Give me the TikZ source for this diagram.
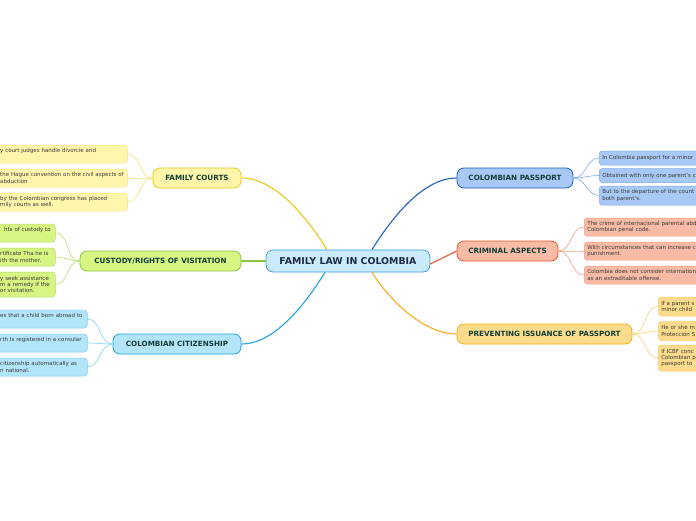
\documentclass[tikz,border=0pt]{standalone}
\usepackage{fontspec}
\setmainfont{DejaVu Sans}
\usetikzlibrary{positioning}

\definecolor{hubfill}{HTML}{C9EBFB}
\definecolor{hubline}{HTML}{3B9AD9}
\definecolor{hubtext}{HTML}{1B2A4A}
\definecolor{topictext}{HTML}{123F35}
\definecolor{notetext}{HTML}{3A3A3A}
\definecolor{courtsfill}{HTML}{FFF6AC}
\definecolor{courtsline}{HTML}{E8C81A}
\definecolor{courtsthin}{HTML}{F2E27C}
\definecolor{custodyfill}{HTML}{D6F583}
\definecolor{custodyline}{HTML}{8BC43F}
\definecolor{custodythin}{HTML}{B5DE6E}
\definecolor{citizenfill}{HTML}{B3E5FA}
\definecolor{citizenline}{HTML}{22A3DE}
\definecolor{citizenthin}{HTML}{82CFF0}
\definecolor{passportfill}{HTML}{A8C9F5}
\definecolor{passportline}{HTML}{1E5FC3}
\definecolor{passportthin}{HTML}{80AAE8}
\definecolor{crimefill}{HTML}{F8BBA6}
\definecolor{crimeline}{HTML}{E45A2D}
\definecolor{crimethin}{HTML}{F2A085}
\definecolor{preventfill}{HTML}{FDDB8C}
\definecolor{preventline}{HTML}{F4AE1A}
\definecolor{preventthin}{HTML}{F8CC6C}

\begin{document}
\begin{tikzpicture}[x=1pt,y=-1pt,
  hub/.style={draw=hubline,fill=hubfill,rounded corners=7pt,line width=0.8pt,minimum width=164pt,minimum height=22pt,inner sep=0pt,font=\fontsize{9.4}{11}\selectfont\bfseries,text=hubtext},
  topic/.style 2 args={draw=#2,fill=#1,rounded corners=7pt,line width=0.8pt,minimum height=20pt,inner sep=0pt,font=\fontsize{7.2}{8}\selectfont\bfseries,text=topictext},
  note/.style 2 args={draw=#2,fill=#1,rounded corners=3pt,line width=0.5pt,minimum height=18pt,inner xsep=3pt,inner ysep=0pt,align=left,font=\fontsize{5.5}{6.3}\selectfont,text=notetext},
  trunk/.style={line width=1.1pt,looseness=0.8},
  twig/.style={line width=0.6pt}]
\useasboundingbox (0,0) rectangle (696,520);
\clip (0,0) rectangle (696,520);
\fill[white] (0,0) rectangle (696,520);

% centre and main topics
\node[hub] (hub) at (348,261) {FAMILY LAW IN COLOMBIA};
\node[topic={courtsfill}{courtsline},minimum width=88pt] (courts) at (197,178) {FAMILY COURTS};
\node[topic={custodyfill}{custodyline},minimum width=161pt] (custody) at (160.5,261) {CUSTODY/RIGHTS OF VISITATION};
\node[topic={citizenfill}{citizenline},minimum width=128pt] (citizen) at (177,344) {COLOMBIAN CITIZENSHIP};
\node[topic={passportfill}{passportline},minimum width=116pt] (passport) at (515,178) {COLOMBIAN PASSPORT};
\node[topic={crimefill}{crimeline},minimum width=101pt] (crime) at (507.5,251) {CRIMINAL ASPECTS};
\node[topic={preventfill}{preventline},minimum width=175pt] (prevent) at (544.5,334) {PREVENTING ISSUANCE OF PASSPORT};

% notes, left side
\node[note={courtsfill}{courtsthin},text width=124pt,anchor=west] (courts-1) at (-3,154) {y court judges handle divorcie and\\\mbox{}};
\node[note={courtsfill}{courtsthin},text width=124pt,anchor=west] (courts-2) at (-3,178) {the Hague convention on the civil aspects of\\abduction};
\node[note={courtsfill}{courtsthin},text width=124pt,anchor=west] (courts-3) at (-3,202) {by the Colombian congress has placed\\mily courts as well.};
\node[note={custodyfill}{custodythin},text width=52pt,anchor=west] (custody-1) at (-3,233) {\hspace*{4pt}hts of custody to\\\mbox{}};
\node[note={custodyfill}{custodythin},text width=52pt,anchor=west] (custody-2) at (-3,257) {rtificate Tha he is\\ith the mother.};
\node[note={custodyfill}{custodythin},text width=52pt,minimum height=25pt,anchor=west] (custody-3) at (-3,284.5) {y seek assistance\\m a remedy if the\\or visitation.};
\node[note={citizenfill}{citizenthin},text width=84pt,anchor=west] (citizen-1) at (-3,319) {es that a child born abroad to\\\mbox{}};
\node[note={citizenfill}{citizenthin},text width=84pt,anchor=west] (citizen-2) at (-3,343) {rth Is registered in a consular\\\mbox{}};
\node[note={citizenfill}{citizenthin},text width=84pt,anchor=west] (citizen-3) at (-3,367) {citizenship automatically as\\n national.};

% notes, right side
\node[note={passportfill}{passportthin},text width=130pt,minimum height=14pt,anchor=west] (passport-1) at (599,158) {In Colombia passport for a minor};
\node[note={passportfill}{passportthin},text width=130pt,minimum height=14pt,anchor=west] (passport-2) at (599,175.5) {Obtained with only one parent's c};
\node[note={passportfill}{passportthin},text width=130pt,minimum height=19pt,anchor=west] (passport-3) at (599,195.5) {But to the departure of the count\\both parent's.};
\node[note={crimefill}{crimethin},text width=140pt,anchor=west] (crime-1) at (584,227) {The crime of internacional parental abd\\Colombian penal code.};
\node[note={crimefill}{crimethin},text width=140pt,anchor=west] (crime-2) at (584,251) {With circumstances that can increase c\\punishment.};
\node[note={crimefill}{crimethin},text width=140pt,anchor=west] (crime-3) at (584,275) {Colombia does not consider internation\\as an extraditable offense.};
\node[note={preventfill}{preventthin},text width=80pt,minimum height=19pt,anchor=west] (prevent-1) at (658,306.5) {If a parent s\\minor child};
\node[note={preventfill}{preventthin},text width=80pt,minimum height=19pt,anchor=west] (prevent-2) at (658,331) {He or she m\\Protección S};
\node[note={preventfill}{preventthin},text width=80pt,minimum height=26pt,anchor=west] (prevent-3) at (658,358) {If ICBF conc\\Colombian p\\passport to};

% trunk lines
\draw[trunk,courtsline] ([xshift=-21pt]hub.north) to[out=122,in=0] (courts.east);
\draw[trunk,custodyline] (hub.west) -- (custody.east);
\draw[trunk,citizenline] ([xshift=-23pt]hub.south) to[out=-122,in=0] (citizen.east);
\draw[trunk,passportline] ([xshift=24pt]hub.north) to[out=58,in=180] (passport.west);
\draw[trunk,crimeline] ([yshift=-3pt]hub.east) -- (crime.west);
\draw[trunk,preventline] ([xshift=24pt]hub.south) to[out=-58,in=180] (prevent.west);

% twigs
\foreach \i in {1,2,3} {
  \draw[twig,courtsthin] (courts.west) to[out=180,in=0] (courts-\i.east);
  \draw[twig,custodythin] (custody.west) to[out=180,in=0] (custody-\i.east);
  \draw[twig,citizenthin] (citizen.west) to[out=180,in=0] (citizen-\i.east);
  \draw[twig,passportthin] (passport.east) to[out=0,in=180] (passport-\i.west);
  \draw[twig,crimethin] (crime.east) to[out=0,in=180] (crime-\i.west);
  \draw[twig,preventthin] (prevent.east) to[out=0,in=180] (prevent-\i.west);
}
\end{tikzpicture}
\end{document}
